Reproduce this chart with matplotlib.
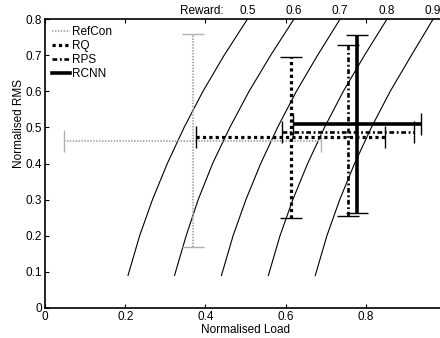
import matplotlib
matplotlib.use("Agg")
import matplotlib.pyplot as plt
from matplotlib.lines import Line2D

plt.rcParams['font.family'] = ['Liberation Sans', 'DejaVu Sans']
plt.rcParams['font.size'] = 8.5

# iso-reward curves (x read at fixed y levels)
curve_y = [0.09, 0.2, 0.3, 0.4, 0.5, 0.6, 0.7, 0.8]
curve_r05 = [0.207, 0.236, 0.268, 0.305, 0.347, 0.394, 0.447, 0.505]
curve_r06 = [0.323, 0.352, 0.382, 0.418, 0.461, 0.509, 0.563, 0.621]
curve_r07 = [0.440, 0.469, 0.501, 0.538, 0.580, 0.627, 0.680, 0.736]
curve_r08 = [0.557, 0.586, 0.618, 0.655, 0.697, 0.744, 0.797, 0.853]
curve_r09 = [0.674, 0.703, 0.735, 0.772, 0.814, 0.861, 0.914, 0.968]
reward_labels = ['0.5', '0.6', '0.7', '0.8', '0.9']

# methods: mean load / rms and error half-widths
methods = ['RefCon', 'RQ', 'RPS', 'RCNN']
load_mean = [0.368, 0.613, 0.756, 0.778]
load_err = [0.320, 0.236, 0.165, 0.160]
rms_mean = [0.462, 0.473, 0.487, 0.509]
rms_err_lo = [0.293, 0.224, 0.232, 0.246]
rms_err_hi = [0.296, 0.222, 0.241, 0.247]

styles = {
    'RefCon': dict(color='#b0b0b0', lw=1.5, ls=(0, (0.7, 0.7))),
    'RQ': dict(color='black', lw=2.3, ls=(0, (1, 1))),
    'RPS': dict(color='black', lw=1.9, ls=(0, (1.8, 1.0, 0.7, 1.0))),
    'RCNN': dict(color='black', lw=2.6, ls='-'),
}

fig = plt.figure(figsize=(4.4, 3.38), dpi=100)
ax = fig.add_axes([45 / 440, 30 / 338, 401 / 440, 289 / 338])

curves = [curve_r05, curve_r06, curve_r07, curve_r08, curve_r09]
for cx, lab in zip(curves, reward_labels):
    ax.plot(cx, curve_y, color='black', lw=0.8, zorder=1)
    ax.text(cx[-1], 0.806, lab, ha='center', va='bottom')
ax.text(0.445, 0.806, 'Reward:', ha='right', va='bottom')

for i, m in enumerate(methods):
    st = styles[m]
    eb = ax.errorbar(load_mean[i], rms_mean[i], xerr=load_err[i],
                     yerr=[[rms_err_lo[i]], [rms_err_hi[i]]], fmt='none',
                     ecolor=st['color'], elinewidth=st['lw'], capsize=7.9,
                     capthick=1.0, zorder=2 + i)
    for bl in eb[2]:
        bl.set_linestyle(st['ls'])
    for cap in eb[1]:
        cap.set_color('#555555' if m != 'RefCon' else '#777777')

handles = [Line2D([0], [0], color=styles[m]['color'], lw=styles[m]['lw'],
                  ls=styles[m]['ls']) for m in methods]
ax.legend(handles, methods, loc='upper left', frameon=False, fontsize=8.5,
          handlelength=1.5, handletextpad=0.2, labelspacing=0.18,
          borderaxespad=0.4, borderpad=0.2)

ax.set_xlim(0, 1)
ax.set_ylim(0, 0.8)
ax.set_xticks([0, 0.2, 0.4, 0.6, 0.8])
ax.set_xticklabels(['0', '0.2', '0.4', '0.6', '0.8'])
ax.set_yticks([0, 0.1, 0.2, 0.3, 0.4, 0.5, 0.6, 0.7, 0.8])
ax.set_yticklabels(['0', '0.1', '0.2', '0.3', '0.4', '0.5', '0.6', '0.7', '0.8'])
ax.tick_params(direction='in', top=True, right=True, length=3, width=0.8,
               labelsize=8.5, pad=2)
for sp in ax.spines.values():
    sp.set_linewidth(1.2)

ax.set_xlabel('Normalised Load', labelpad=1)
ax.set_ylabel('Normalised RMS')
ax.yaxis.set_label_coords(-0.05, 0.637)

fig.savefig('out.png', dpi=100)
